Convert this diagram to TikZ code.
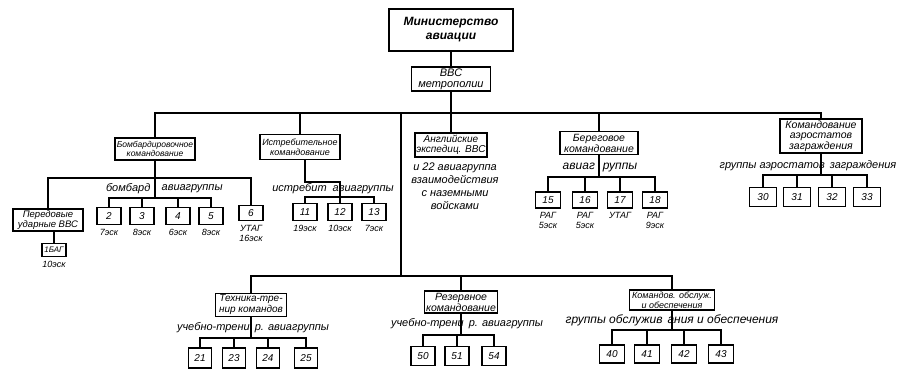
\documentclass[tikz,border=0pt]{standalone}
\usepackage{fontspec}
\setmainfont{Liberation Sans}
\usetikzlibrary{positioning}

\begin{document}
\begin{tikzpicture}[x=1pt, y=-1pt, line width=1.3pt,
    box/.style={draw, line width=1.4pt, align=center, inner sep=1.5pt, font=\fontsize{10}{11}\selectfont\itshape},
    num/.style={draw, line width=1.4pt, minimum width=24pt, minimum height=17pt, inner sep=0pt, font=\fontsize{10}{10}\selectfont\itshape},
    lbl/.style={inner sep=0pt, font=\fontsize{11}{11}\selectfont\itshape},
    esk/.style={inner sep=0pt, align=center, font=\fontsize{9}{10}\selectfont\itshape}]

  \useasboundingbox (0,0) rectangle (898,368);

  % top
  \node[box, minimum width=124pt, minimum height=42pt, font=\fontsize{12}{14}\selectfont\bfseries\itshape] (min) at (451,30) {Министерство\\авиации};
  \node[box, minimum width=79pt, minimum height=24pt, font=\fontsize{11}{11}\selectfont\itshape] (vvs) at (451,79) {ВВС\\метрополии};
  \coordinate (top) at (451,113);
  \coordinate (mid) at (401,113);
  \coordinate (low) at (401,276);

  % commands
  \node[box, minimum width=80pt, minimum height=22pt, font=\fontsize{8.5}{9.5}\selectfont\itshape] (bomb) at (155,149) {Бомбардировочное\\командование};
  \node[box, minimum width=80pt, minimum height=25pt, font=\fontsize{9}{10}\selectfont\itshape] (istr) at (300,147) {Истребительное\\командование};
  \node[box, minimum width=68pt, minimum height=24pt, font=\fontsize{10}{10.5}\selectfont\itshape] (angl) at (451,145) {Английские\\экспедиц. ВВС};
  \node[box, minimum width=78pt, minimum height=23pt, font=\fontsize{10.5}{11}\selectfont\itshape] (bereg) at (599,143) {Береговое\\командование};
  \node[box, minimum width=82pt, minimum height=30pt, font=\fontsize{10.5}{10.5}\selectfont\itshape] (aero) at (821,136) {Командование\\аэростатов\\заграждения};
  \node[box, minimum width=71pt, minimum height=20pt] (tech) at (251,305) {Техника-тре-\\нир командов};
  \node[box, minimum width=73pt, minimum height=22pt, font=\fontsize{10.5}{11}\selectfont\itshape] (rez) at (461,302) {Резервное\\командование};
  \node[box, minimum width=85pt, minimum height=20pt, font=\fontsize{9}{10}\selectfont\itshape] (obsl) at (672,300) {Командов. обслуж.\\и обеспечения};

  \draw (min) -- (vvs);
  \draw (vvs) -- (top);
  \draw (bomb.north) |- (top) -| (aero.north);
  \draw (istr) -- (istr |- top);
  \draw (angl) -- (angl |- top);
  \draw (bereg) -- (bereg |- top);
  \draw (mid) -- (low);
  \draw (tech.north) |- (low) -| (obsl.north);
  \draw (rez) -- (rez |- low);

  \node[esk, font=\fontsize{11}{13}\selectfont\itshape] (angltxt) at (455,186) {и 22 авиагруппа\\взаимодействия\\с наземными\\войсками};

  % bombers
  \coordinate (bb1) at (155,178);
  \coordinate (bb2) at (155,198);
  \node[lbl, anchor=east] (bomblbl1) at (151,189) {бомбард};
  \node[lbl, anchor=west] (bomblbl2) at (161,189) {авиагруппы};
  \node[box, minimum width=70pt, minimum height=21pt, font=\fontsize{9.5}{10}\selectfont\itshape] (pered) at (48,220) {Передовые\\ударные ВВС};
  \node[box, minimum width=24pt, minimum height=13pt, inner sep=1pt, font=\fontsize{8}{8}\selectfont\itshape] (b1) at (54,250) {1БАГ};
  \node[esk, below=3pt of b1] (b1e) {10эск};
  \node[num] (b2) at (109,216) {2};
  \node[num] (b3) at (142,216) {3};
  \node[num] (b4) at (178,216) {4};
  \node[num] (b5) at (211,216) {5};
  \node[num, minimum height=15pt] (b6) at (251,213) {6};
  \node[esk, below=3pt of b2] (b2e) {7эск};
  \node[esk, below=3pt of b3] (b3e) {8эск};
  \node[esk, below=3pt of b4] (b4e) {6эск};
  \node[esk, below=3pt of b5] (b5e) {8эск};
  \node[esk, below=3pt of b6] (b6e) {УТАГ\\16эск};
  \draw (bomb) -- (bb2);
  \draw (pered.north) |- (bb1) -| (b6.north);
  \draw (b1) -- (b1 |- pered.south);
  \draw (b2.north) |- (bb2) -| (b5.north);
  \draw (b3) -- (b3 |- bb2);
  \draw (b4) -- (b4 |- bb2);

  % fighters
  \coordinate (ij) at (305,182);
  \coordinate (ib) at (305,197);
  \node[lbl] (istrlbl) at (333,189) {истребит\hspace{6pt}авиагруппы};
  \node[num] (i11) at (305,212) {11};
  \node[num] (i12) at (340,212) {12};
  \node[num] (i13) at (374,212) {13};
  \node[esk, below=3pt of i11] (i11e) {19эск};
  \node[esk, below=3pt of i12] (i12e) {10эск};
  \node[esk, below=3pt of i13] (i13e) {7эск};
  \draw (istr.south -| ij) -- (ij) -| (i12.north);
  \draw (i11.north) |- (ib) -| (i13.north);

  % coastal
  \coordinate (bgb) at (599,177);
  \node[lbl, font=\fontsize{12}{12}\selectfont\itshape] (bereglbl) at (600,168) {авиаг\hspace{8pt}руппы};
  \node[num, minimum width=25pt, minimum height=16pt] (r15) at (548,200) {15};
  \node[num, minimum width=25pt, minimum height=16pt] (r16) at (585,200) {16};
  \node[num, minimum width=25pt, minimum height=16pt] (r17) at (620,200) {17};
  \node[num, minimum width=25pt, minimum height=16pt] (r18) at (655,200) {18};
  \node[esk, below=3pt of r15] (r15e) {РАГ\\5эск};
  \node[esk, below=3pt of r16] (r16e) {РАГ\\5эск};
  \node[esk, below=3pt of r17] (r17e) {УТАГ};
  \node[esk, below=3pt of r18] (r18e) {РАГ\\9эск};
  \draw (bereg) -- (bgb);
  \draw (r15.north) |- (bgb) -| (r18.north);
  \draw (r16) -- (r16 |- bgb);
  \draw (r17) -- (r17 |- bgb);

  % balloons
  \coordinate (ab) at (821,175);
  \node[lbl] (aerolbl) at (808,166) {группы аэростатов\hspace{5pt}заграждения};
  \node[num, minimum width=27pt, minimum height=19pt] (a30) at (763,197) {30};
  \node[num, minimum width=27pt, minimum height=19pt] (a31) at (797,197) {31};
  \node[num, minimum width=27pt, minimum height=19pt] (a32) at (832,197) {32};
  \node[num, minimum width=27pt, minimum height=19pt] (a33) at (867,197) {33};
  \draw (aero) -- (ab);
  \draw (a30.north) |- (ab) -| (a33.north);
  \draw (a31) -- (a31 |- ab);
  \draw (a32) -- (a32 |- ab);

  % training
  \coordinate (tb) at (251,338);
  \node[lbl] (techlbl) at (253,328) {учебно-трени\hspace{5pt}р. авиагруппы};
  \node[num, minimum width=23pt, minimum height=20pt] (t21) at (200,358) {21};
  \node[num, minimum width=23pt, minimum height=20pt] (t23) at (234,358) {23};
  \node[num, minimum width=23pt, minimum height=20pt] (t24) at (268,358) {24};
  \node[num, minimum width=23pt, minimum height=20pt] (t25) at (306,358) {25};
  \draw (tech) -- (tb);
  \draw (t21.north) |- (tb) -| (t25.north);
  \draw (t23) -- (t23 |- tb);
  \draw (t24) -- (t24 |- tb);

  % reserve
  \coordinate (rb) at (461,335);
  \node[lbl] (rezlbl) at (467,324) {учебно-трени\hspace{5pt}р. авиагруппы};
  \node[num, minimum height=19pt] (s50) at (423,356) {50};
  \node[num, minimum height=19pt] (s51) at (457,356) {51};
  \node[num, minimum height=19pt] (s54) at (494,356) {54};
  \draw (rez) -- (rb);
  \draw (s50.north) |- (rb) -| (s54.north);
  \draw (s51) -- (s51 |- rb);

  % service
  \coordinate (ob) at (672,330);
  \node[lbl, font=\fontsize{12}{12}\selectfont\itshape] (obsllbl) at (672,320) {группы обслужив\hspace{5pt}ания и обеспечения};
  \node[num, minimum width=25pt, minimum height=18pt] (o40) at (612,354) {40};
  \node[num, minimum width=25pt, minimum height=18pt] (o41) at (647,354) {41};
  \node[num, minimum width=25pt, minimum height=18pt] (o42) at (684,354) {42};
  \node[num, minimum width=25pt, minimum height=18pt] (o43) at (721,354) {43};
  \draw (obsl) -- (ob);
  \draw (o40.north) |- (ob) -| (o43.north);
  \draw (o41) -- (o41 |- ob);
  \draw (o42) -- (o42 |- ob);
\end{tikzpicture}
\end{document}
